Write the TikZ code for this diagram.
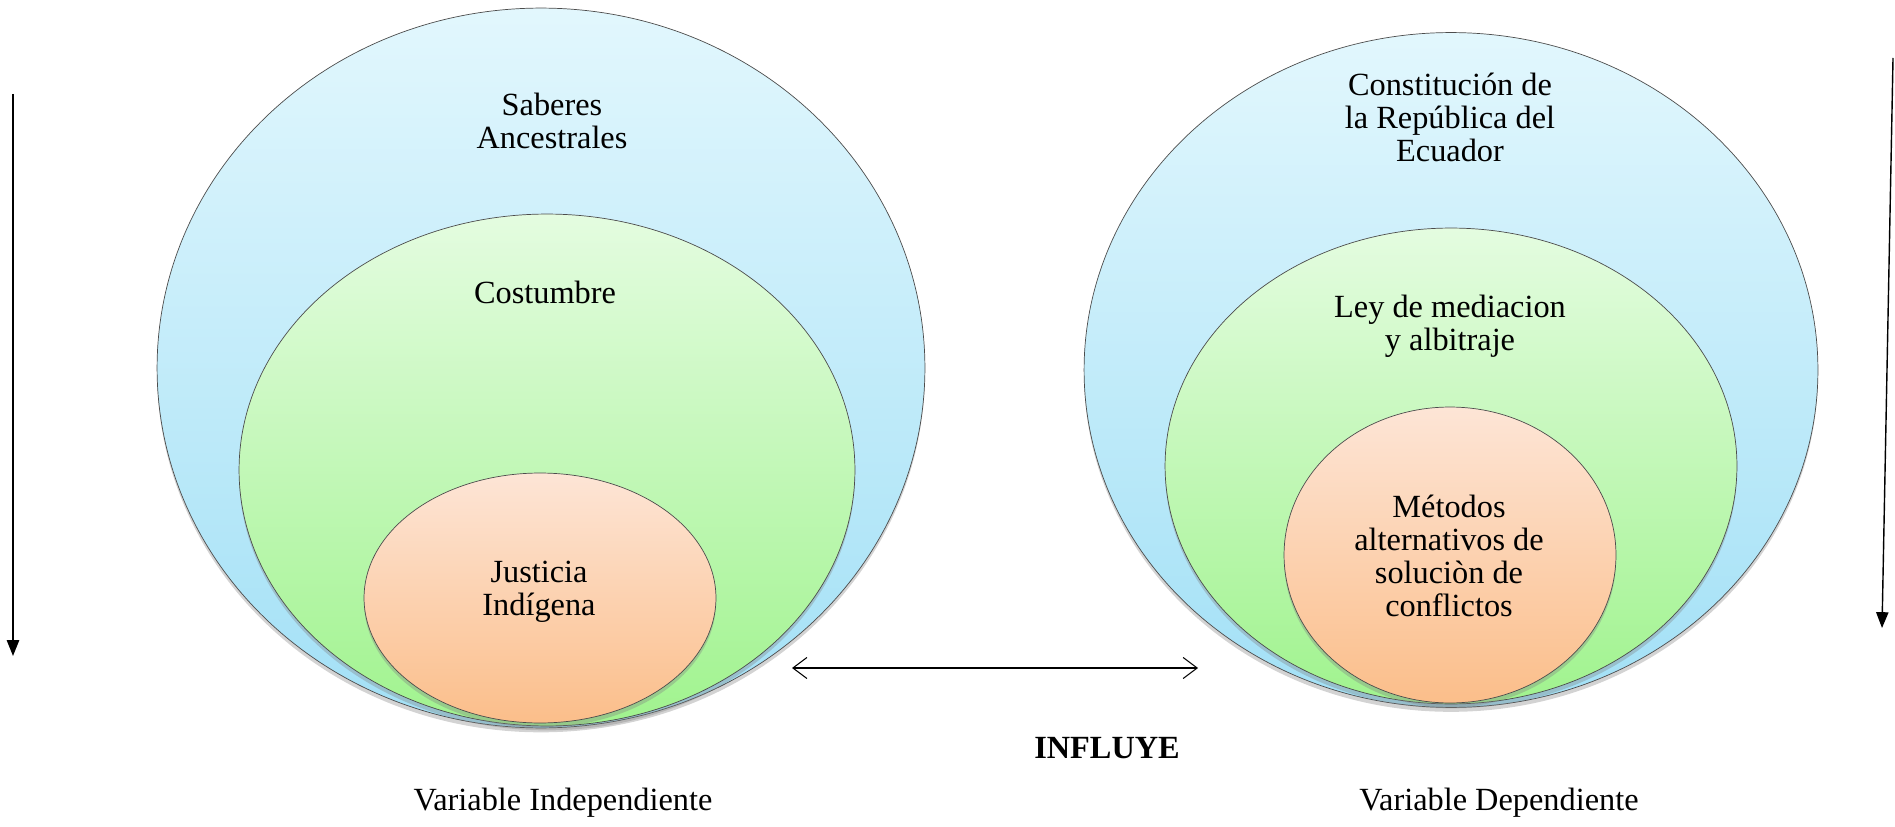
\documentclass[tikz,border=0pt]{standalone}
\usepackage{fontspec}
\setmainfont{Liberation Serif}
\usepackage{tikz}
\usetikzlibrary{arrows.meta,shapes.geometric,shadows}

\definecolor{celtop}{RGB}{226,247,253}
\definecolor{celbot}{RGB}{162,224,246}
\definecolor{vertop}{RGB}{228,252,224}
\definecolor{verbot}{RGB}{160,243,142}
\definecolor{nartop}{RGB}{253,229,214}
\definecolor{narbot}{RGB}{251,190,138}

\begin{document}
\begin{tikzpicture}[x=0.02cm, y=-0.02cm,
	elip/.style={ellipse, draw=black!70, thin, inner sep=0pt,
		drop shadow={opacity=.35, shadow xshift=0pt, shadow yshift=-2.5pt}},
	cielo/.style={elip, top color=celtop, bottom color=celbot},
	verde/.style={elip, top color=vertop, bottom color=verbot},
	naranja/.style={elip, top color=nartop, bottom color=narbot},
	txt/.style={align=center, font=\fontsize{18.4}{18.8}\selectfont},
	flecha/.style={-{Triangle[length=9pt,width=7pt]}, thick} % vertical arrows
	]
	\useasboundingbox (0,0) rectangle (1895,827);
	% variable independiente
	\node[cielo, minimum width=15.36cm, minimum height=14.4cm] (sab) at (541,368) {};
	\node[verde, minimum width=12.32cm, minimum height=10.24cm] (cos) at (547,470) {};
	\node[naranja, minimum width=7.04cm, minimum height=5cm] (jus) at (540,598) {};
	\node[txt] (tsab) at (552,121) {Saberes\\Ancestrales};
	\node[txt] (tcos) at (545,292) {Costumbre};
	\node[txt] (tjus) at (539,592) {Justicia\\Indígena};
	% variable dependiente
	\node[cielo, minimum width=14.68cm, minimum height=13.5cm] (con) at (1451,370) {};
	\node[verde, minimum width=11.44cm, minimum height=9.52cm] (ley) at (1451,466) {};
	\node[naranja, minimum width=6.64cm, minimum height=5.92cm] (met) at (1450,555) {};
	\node[txt] (tcon) at (1450,117) {Constitución de\\la República del\\Ecuador};
	\node[txt] (tley) at (1450,326) {Ley de mediacion\\y albitraje};
	\node[txt] (tmet) at (1449,556) {Métodos\\alternativos de\\soluciòn de\\conflictos};
	% influye
	\coordinate (ia) at (792,668);
	\coordinate (ib) at (1198,668);
	\draw[{Straight Barb[length=8pt,width=12pt]}-{Straight Barb[length=8pt,width=12pt]}, semithick] (ia) -- (ib);
	\node[txt, font=\fontsize{18.4}{18.8}\selectfont\bfseries] (inf) at (1107,748) {INFLUYE};
	\node[txt] (vi) at (563,803) {Variable Independiente};
	\node[txt] (vd) at (1499,803) {Variable Dependiente};
	% flechas laterales
	\coordinate (la) at (13,94);
	\coordinate (lb) at (13,656);
	\coordinate (ra) at (1893,58);
	\coordinate (rb) at (1882,628);
	\draw[flecha] (la) -- (lb);
	\draw[flecha] (ra) -- (rb);
\end{tikzpicture}
\end{document}
